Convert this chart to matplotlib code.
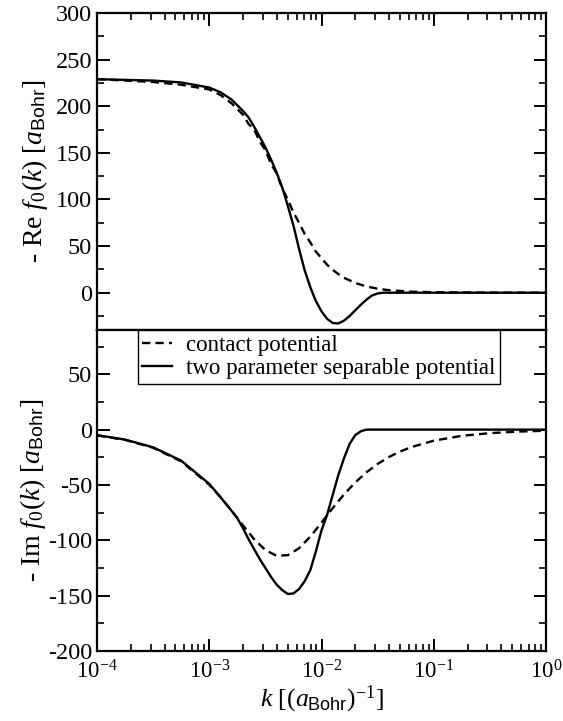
import numpy as np
import matplotlib
matplotlib.use("Agg")
import matplotlib.pyplot as plt
from matplotlib.ticker import MultipleLocator, LogLocator, NullFormatter

plt.rcParams['font.family'] = 'Liberation Serif'
plt.rcParams['mathtext.fontset'] = 'custom'
plt.rcParams['mathtext.rm'] = 'Liberation Serif'
plt.rcParams['mathtext.it'] = 'Liberation Serif:italic'
plt.rcParams['mathtext.sf'] = 'Liberation Sans'
plt.rcParams['axes.unicode_minus'] = False

# log10(k) points and values
logk_re_solid = [-4.0, -3.5, -3.25, -3.0, -2.9, -2.8, -2.75, -2.7, -2.65, -2.6, -2.55, -2.5,
                 -2.45, -2.4, -2.35, -2.3, -2.25, -2.2, -2.15, -2.1, -2.05, -2.0, -1.95,
                 -1.9, -1.85, -1.8, -1.75, -1.7, -1.65, -1.6, -1.55, -1.5, -1.45, -1.0, 0.0]
re_solid = [229, 227.5, 225.5, 220, 215, 207, 201, 195, 188, 178, 167, 156,
            143, 129, 113, 93, 72, 47, 24, 6, -9, -20, -28,
            -32.5, -33, -30, -25, -19, -13, -7.5, -3, -0.8, 0, 0, 0]

logk_re_dash = [-4.0, -3.5, -3.25, -3.0, -2.9, -2.8, -2.7, -2.65, -2.6, -2.55, -2.5, -2.45,
                -2.4, -2.35, -2.3, -2.25, -2.2, -2.15, -2.1, -2.05, -2.0, -1.95, -1.9,
                -1.85, -1.8, -1.7, -1.6, -1.5, -1.4, -1.2, -1.0, -0.5, 0.0]
re_dash = [229, 226, 223, 218, 212, 203, 191, 181, 175, 162, 153, 138,
           128, 112, 100, 86, 75, 63, 54, 44, 37, 30, 24.5,
           20, 16, 10.5, 6.7, 4.3, 2.7, 1.1, 0.5, 0.1, 0]

logk_im_solid = [-4.0, -3.75, -3.5, -3.25, -3.0, -2.9, -2.8, -2.75, -2.7, -2.65, -2.6, -2.55,
                 -2.5, -2.45, -2.4, -2.35, -2.3, -2.25, -2.2, -2.15, -2.1, -2.05, -2.0,
                 -1.95, -1.9, -1.85, -1.8, -1.75, -1.7, -1.65, -1.6, -1.0, 0.0]
im_solid = [-5, -9, -16, -28, -49, -61, -73.5, -80, -89, -99, -108, -117,
            -125, -133, -140, -145, -148.5, -148, -144, -137, -127, -110, -91,
            -77, -59, -41, -26, -13, -5, -1.5, 0, 0, 0]

logk_im_dash = [-4.0, -3.75, -3.5, -3.25, -3.0, -2.9, -2.8, -2.7, -2.6, -2.5, -2.4, -2.3,
                -2.2, -2.1, -2.0, -1.9, -1.8, -1.7, -1.6, -1.5, -1.4, -1.3, -1.2, -1.0,
                -0.75, -0.5, -0.25, 0.0]
im_dash = [-5.2, -9.3, -16.4, -28.7, -49.8, -61, -73.4, -86.5, -99, -108.8, -114, -113.4,
           -107.2, -96.7, -84, -70.9, -58.6, -47.8, -38.6, -31, -24.8, -19.8, -15.8, -10,
           -5.6, -3.2, -1.8, -1.0]

labels = ['contact potential', 'two parameter separable potential']

fig = plt.figure(figsize=(5.63, 7.21), dpi=100)
ax1 = fig.add_axes([0.1723, 0.5423, 0.7975, 0.4397])
ax2 = fig.add_axes([0.1723, 0.0971, 0.7975, 0.4452])

k = lambda lk: 10.0 ** np.array(lk)

ax1.plot(k(logk_re_dash), re_dash, 'k--', lw=1.7, dashes=(3.5, 2.2))
ax1.plot(k(logk_re_solid), re_solid, 'k-', lw=1.7)
ax2.plot(k(logk_im_dash), im_dash, 'k--', lw=1.7, dashes=(3.5, 2.2), label=labels[0])
ax2.plot(k(logk_im_solid), im_solid, 'k-', lw=1.7, label=labels[1])

for ax in (ax1, ax2):
    ax.set_xscale('log')
    ax.set_xlim(1e-4, 1)
    ax.xaxis.set_major_locator(LogLocator(base=10, numticks=10))
    ax.xaxis.set_minor_locator(LogLocator(base=10, subs=np.arange(2, 10), numticks=10))
    ax.xaxis.set_minor_formatter(NullFormatter())
    ax.yaxis.set_major_locator(MultipleLocator(50))
    ax.yaxis.set_minor_locator(MultipleLocator(25))
    ax.tick_params(which='major', direction='in', length=9, width=1.4, labelsize=17.5)
    ax.tick_params(which='minor', direction='in', length=5, width=1.2)
    ax.tick_params(axis='x', labelsize=16.5)
    for s in ax.spines.values():
        s.set_linewidth(1.6)

ax1.set_ylim(-40, 300)
ax1.tick_params(axis='x', which='both', top=True, bottom=False, labelbottom=False)
ax1.tick_params(axis='y', which='both', left=True, right=True)
ax1.set_ylabel(r'- Re $f_0(k)$ [$a_{\mathsf{Bohr}}$]', fontsize=20, labelpad=4)

ax2.set_ylim(-200, 90)
ax2.tick_params(axis='x', which='both', top=False, bottom=True, pad=7)
ax2.tick_params(axis='y', which='both', left=True, right=True)
ax2.set_ylabel(r'- Im $f_0(k)$ [$a_{\mathsf{Bohr}}$]', fontsize=20, labelpad=0)
ax2.set_xlabel(r'$k$ [($a_{\mathsf{Bohr}}$)$^{-1}$]', fontsize=18.5, labelpad=0)

leg = ax2.legend(loc='upper left', bbox_to_anchor=(0.091, 1.0), fontsize=16.5,
                 handlelength=1.3, handletextpad=0.6, borderpad=0.2,
                 labelspacing=0.1, fancybox=False, framealpha=1, borderaxespad=0)
leg.get_frame().set_edgecolor('black')
leg.get_frame().set_linewidth(1.0)

fig.savefig('out.png', dpi=100)
